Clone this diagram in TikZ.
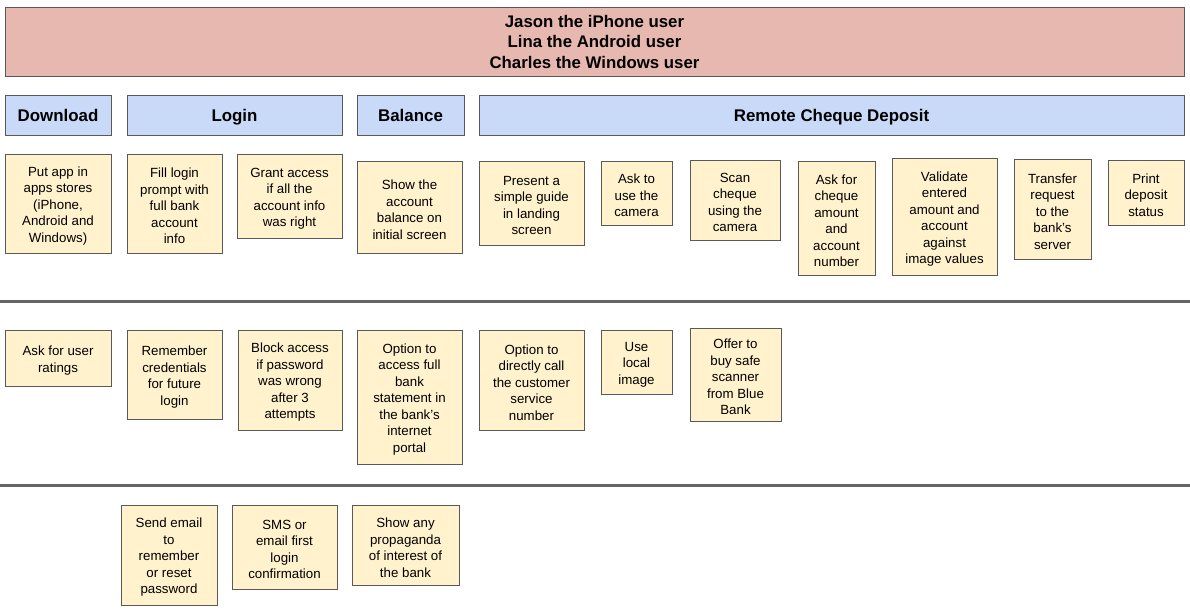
\documentclass[tikz,border=0pt]{standalone}
\usepackage{fontspec}
\setmainfont{Liberation Sans}
\usepackage{xcolor}
\definecolor{titlered}{HTML}{E6B8AF}
\definecolor{headblue}{HTML}{C9DAF8}
\definecolor{noteyellow}{HTML}{FFF2CC}
\definecolor{edgegray}{HTML}{595959}
\definecolor{rulegray}{HTML}{666666}

\begin{document}
\begin{tikzpicture}
        [
            x=1pt,y=-1pt,
            persona/.style={rectangle,draw=edgegray,fill=titlered,line width=0.8pt,inner sep=0pt,align=center,font=\fontsize{16.8}{20.5}\selectfont\bfseries},
            stage/.style={rectangle,draw=edgegray,fill=headblue,line width=0.8pt,inner sep=0pt,minimum height=40pt,text height=14pt,text depth=2pt,font=\fontsize{16.9}{20}\selectfont\bfseries},
            note/.style={rectangle,draw=edgegray,fill=noteyellow,line width=0.8pt,inner sep=0pt},
            notetext/.style={align=center,inner sep=0pt,yshift=-2.5pt,font=\fontsize{13.3}{16.5}\selectfont},
        ]

    \useasboundingbox (0,0) rectangle (1190,614);

    % users
    \node[persona,minimum width=1179pt,minimum height=69pt] (users) at (594.5,41.5)
        {Jason the iPhone user\\Lina the Android user\\Charles the Windows user};

    % stages
    \node[stage,minimum width=106pt] (download) at (58,115) {Download};
    \node[stage,minimum width=215pt] (login) at (234.5,115) {Login};
    \node[stage,minimum width=107pt] (balance) at (410.5,115) {Balance};
    \node[stage,minimum width=705pt] (deposit) at (831.5,115) {Remote Cheque Deposit};

    % first release
    \node[note,minimum width=106pt,minimum height=99pt,
        label={[notetext]center:{Put app in\\apps stores\\(iPhone,\\Android and\\Windows)}}] (putapp) at (58,203.5) {};
    \node[note,minimum width=95pt,minimum height=99pt,
        label={[notetext]center:{Fill login\\prompt with\\full bank\\account\\info}}] (fillprompt) at (174.5,203.5) {};
    \node[note,minimum width=105pt,minimum height=84pt,
        label={[notetext]center:{Grant access\\if all the\\account info\\was right}}] (grant) at (289.5,196) {};
    \node[note,minimum width=105pt,minimum height=92pt,
        label={[notetext]center:{Show the\\account\\balance on\\initial screen}}] (showbal) at (409.5,207) {};
    \node[note,minimum width=105pt,minimum height=84pt,
        label={[notetext]center:{Present a\\simple guide\\in landing\\screen}}] (guide) at (531.5,203) {};
    \node[note,minimum width=71pt,minimum height=64pt,
        label={[notetext]center:{Ask to\\use the\\camera}}] (askcam) at (636.5,193) {};
    \node[note,minimum width=90pt,minimum height=80pt,
        label={[notetext]center:{Scan\\cheque\\using the\\camera}}] (scan) at (735,200) {};
    \node[note,minimum width=77pt,minimum height=114pt,
        label={[notetext]center:{Ask for\\cheque\\amount\\and\\account\\number}}] (askamount) at (836.5,218) {};
    \node[note,minimum width=105pt,minimum height=117pt,
        label={[notetext]center:{Validate\\entered\\amount and\\account\\against\\image values}}] (validate) at (944.5,216.5) {};
    \node[note,minimum width=77pt,minimum height=100pt,
        label={[notetext]center:{Transfer\\request\\to the\\bank’s\\server}}] (transfer) at (1052.5,209) {};
    \node[note,minimum width=76pt,minimum height=65pt,
        label={[notetext]center:{Print\\deposit\\status}}] (status) at (1146,192.5) {};

    \draw[rulegray,line width=3pt] (0,301.5) -- (1190,301.5);

    % second release
    \node[note,minimum width=106pt,minimum height=56pt,
        label={[notetext]center:{Ask for user\\ratings}}] (ratings) at (58,358) {};
    \node[note,minimum width=95pt,minimum height=89pt,
        label={[notetext]center:{Remember\\credentials\\for future\\login}}] (remember) at (174.5,374.5) {};
    \node[note,minimum width=104pt,minimum height=100pt,
        label={[notetext]center:{Block access\\if password\\was wrong\\after 3\\attempts}}] (block) at (290,380) {};
    \node[note,minimum width=105pt,minimum height=134pt,
        label={[notetext]center:{Option to\\access full\\bank\\statement in\\the bank’s\\internet\\portal}}] (statement) at (409.5,397) {};
    \node[note,minimum width=105pt,minimum height=100pt,
        label={[notetext]center:{Option to\\directly call\\the customer\\service\\number}}] (callcs) at (531.5,380) {};
    \node[note,minimum width=71pt,minimum height=64pt,
        label={[notetext]center:{Use\\local\\image}}] (localimg) at (636.5,362) {};
    \node[note,minimum width=91pt,minimum height=93pt,
        label={[notetext]center:{Offer to\\buy safe\\scanner\\from Blue\\Bank}}] (scanner) at (735.5,374.5) {};

    \draw[rulegray,line width=3pt] (0,485) -- (1190,485);

    % third release
    \node[note,minimum width=96pt,minimum height=100pt,
        label={[notetext]center:{Send email\\to\\remember\\or reset\\password}}] (resetmail) at (169,555) {};
    \node[note,minimum width=105pt,minimum height=84pt,
        label={[notetext]center:{SMS or\\email first\\login\\confirmation}}] (confirm) at (284.5,547) {};
    \node[note,minimum width=107pt,minimum height=80pt,
        label={[notetext]center:{Show any\\propaganda\\of interest of\\the bank}}] (propaganda) at (405.5,545) {};
\end{tikzpicture}
\end{document}
